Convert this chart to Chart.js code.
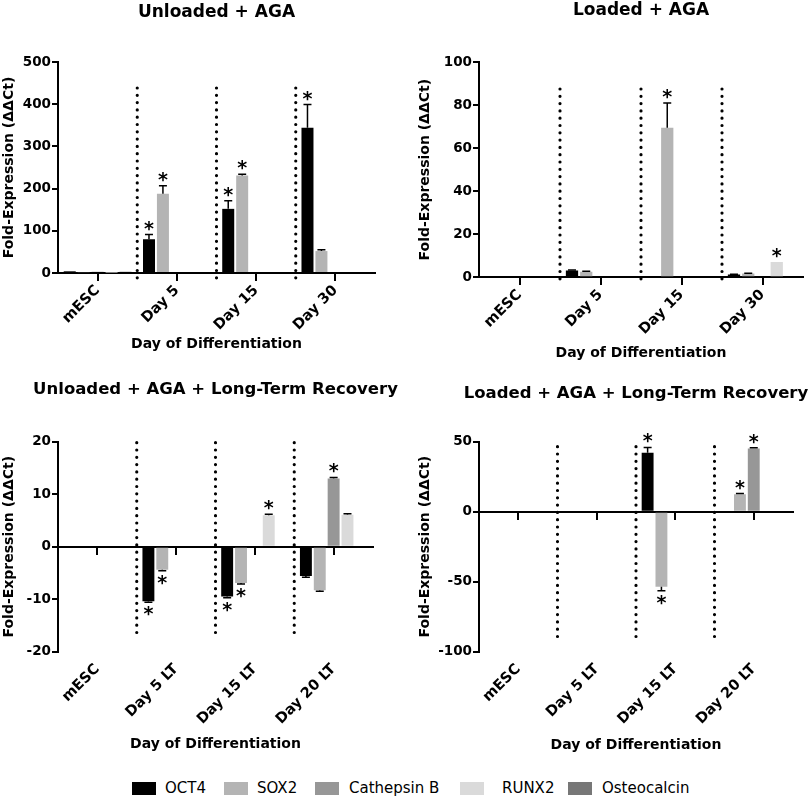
<!DOCTYPE html>
<html>
<head>
<meta charset="utf-8">
<script src="https://cdn.jsdelivr.net/npm/chart.js@4.4.1/dist/chart.umd.min.js"></script>
<style>
  html, body { margin: 0; padding: 0; background: #fff; }
  body { width: 810px; height: 797px; position: relative; overflow: hidden; }
  canvas { position: absolute; }
  #legend { position: absolute; left: 0; top: 781px; width: 810px; height: 16px;
            font-family: 'DejaVu Sans', sans-serif; font-size: 15px; color: #000; }
  #legend .box { position: absolute; top: 1px; width: 24px; height: 13px; }
  #legend .lbl { position: absolute; top: -1px; line-height: 16px; white-space: nowrap; }
</style>
</head>
<body>
<canvas id="c1" width="433" height="365" style="left:0;top:0"></canvas>
<canvas id="c2" width="472" height="365" style="left:405px;top:0"></canvas>
<canvas id="c3" width="431" height="395" style="left:0;top:365px"></canvas>
<canvas id="c4" width="462" height="395" style="left:405px;top:365px"></canvas>
<div id="legend"></div>
<script>
// genes (one dataset each) and the day categories
const genes = ['OCT4', 'SOX2', 'Cathepsin B', 'RUNX2', 'Osteocalcin'];
const agaDays = ['mESC', 'Day 5', 'Day 15', 'Day 30'];
const ltDays = ['mESC', 'Day 5 LT', 'Day 15 LT', 'Day 20 LT'];

// rows = genes, columns = days
const unloadedAga = [
  [4, 80, 152, 344],
  [2, 188, 231, 52],
  [3, 0, 0, 0],
  [1, 0, 0, 0],
  [3, 0, 0, 0]
];
const unloadedAgaErr = [
  [0, 11, 19, 55],
  [0, 19, 3, 3],
  [0, 0, 0, 0],
  [0, 0, 0, 0],
  [0, 0, 0, 0]
];
const unloadedAgaSig = [
  [0, 1, 1, 1],
  [0, 1, 1, 0],
  [0, 0, 0, 0],
  [0, 0, 0, 0],
  [0, 0, 0, 0]
];

const loadedAga = [
  [0, 3.2, 0, 1.3],
  [0, 2.6, 69.5, 1.8],
  [0, 0, 0, 0],
  [0, 0, 0, 7.1],
  [0, 0, 0, 0]
];
const loadedAgaErr = [
  [0, 0.2, 0, 0.1],
  [0, 0.2, 11.5, 0.1],
  [0, 0, 0, 0],
  [0, 0, 0, 0],
  [0, 0, 0, 0]
];
const loadedAgaSig = [
  [0, 0, 0, 0],
  [0, 0, 1, 0],
  [0, 0, 0, 0],
  [0, 0, 0, 1],
  [0, 0, 0, 0]
];

const unloadedLt = [
  [0, -10.4, -9.5, -5.6],
  [0, -4.4, -6.9, -8.3],
  [0, 0, 0, 13.0],
  [0, -0.2, 6.0, 6.1],
  [0, 0, 0, 0]
];
const unloadedLtErr = [
  [0, 0.2, 0.2, 0.2],
  [0, 0.2, 0.2, 0.2],
  [0, 0, 0, 0.2],
  [0, 0, 0.2, 0.2],
  [0, 0, 0, 0]
];
const unloadedLtSig = [
  [0, 1, 1, 0],
  [0, 1, 1, 0],
  [0, 0, 0, 1],
  [0, 0, 1, 0],
  [0, 0, 0, 0]
];

const loadedLt = [
  [0, -1, 42.1, -1],
  [0, 0, -53.6, 12.4],
  [0, 0, 0, 45.2],
  [0, 0, 0, 0],
  [0, 0, 0, 0]
];
const loadedLtErr = [
  [0, 0, 3.8, 0],
  [0, 0, 2.8, 0.6],
  [0, 0, 0, 0.4],
  [0, 0, 0, 0],
  [0, 0, 0, 0]
];
const loadedLtSig = [
  [0, 0, 1, 0],
  [0, 0, 1, 1],
  [0, 0, 0, 1],
  [0, 0, 0, 0],
  [0, 0, 0, 0]
];

const geneColors = ['#000000', '#b4b4b4', '#979797', '#dadada', '#777777'];
const FONT = "'DejaVu Sans', sans-serif";

// dotted separators between day groups
function dottedLines(start, length) {
  return {
    id: 'dotted',
    beforeDatasetsDraw(chart) {
      const { ctx, chartArea, scales: { x } } = chart;
      const top = chartArea.top + start;
      ctx.save();
      ctx.strokeStyle = '#000';
      ctx.lineWidth = 3.2;
      ctx.lineCap = 'round';
      ctx.setLineDash([0, 7.3]);
      for (let i = 1; i < chart.data.labels.length; i++) {
        const bx = (x.getPixelForValue(i - 1) + x.getPixelForValue(i)) / 2;
        ctx.beginPath();
        ctx.moveTo(bx, top);
        ctx.lineTo(bx, top + length);
        ctx.stroke();
      }
      ctx.restore();
    }
  };
}

// one-sided error bars and significance stars
function errorStars(err, sig) {
  return {
    id: 'errorStars',
    afterDatasetsDraw(chart) {
      const { ctx, scales: { y } } = chart;
      ctx.save();
      chart.data.datasets.forEach((ds, di) => {
        chart.getDatasetMeta(di).data.forEach((bar, i) => {
          const v = ds.data[i];
          const e = err[di][i];
          const dir = v < 0 ? -1 : 1;
          let endY = bar.y;
          if (e > 0) {
            endY = y.getPixelForValue(v + dir * e);
            ctx.strokeStyle = '#000';
            ctx.lineWidth = 1.5;
            ctx.beginPath();
            ctx.moveTo(bar.x, bar.y);
            ctx.lineTo(bar.x, endY);
            ctx.moveTo(bar.x - 4, endY);
            ctx.lineTo(bar.x + 4, endY);
            ctx.stroke();
          }
          if (sig[di][i]) {
            ctx.fillStyle = '#000';
            ctx.font = 'bold 19px ' + FONT;
            ctx.textAlign = 'center';
            ctx.textBaseline = 'alphabetic';
            const m = ctx.measureText('*');
            const cy = endY - dir * 9;
            ctx.fillText('*', bar.x, cy + (m.actualBoundingBoxAscent - m.actualBoundingBoxDescent) / 2);
          }
        });
      });
      ctx.restore();
    }
  };
}

function panel(id, c) {
  const tickFont = { family: FONT, size: 13.5, weight: 'bold' };
  return new Chart(document.getElementById(id), {
    type: 'bar',
    data: {
      labels: c.labels,
      datasets: genes.map((g, gi) => ({
        label: g,
        data: c.values[gi],
        backgroundColor: geneColors[gi],
        borderWidth: 0,
        categoryPercentage: 0.88,
        barPercentage: 0.86
      }))
    },
    options: {
      responsive: false,
      animation: false,
      layout: { padding: 0 },
      plugins: {
        legend: { display: false },
        tooltip: { enabled: false },
        title: {
          display: true, text: c.title, color: '#000',
          font: { family: FONT, size: c.titleSize, weight: 'bold' },
          padding: { top: c.titleTop, bottom: c.titleBottom }
        }
      },
      scales: {
        x: {
          type: 'category', position: 'bottom', offset: true,
          grid: { display: false, drawTicks: true, tickLength: 7 },
          border: { display: false },
          ticks: { color: '#000', font: { family: FONT, size: 14.5, weight: 'bold' },
                   minRotation: 45, maxRotation: 45, padding: 2, autoSkip: false },
          title: { display: true, text: 'Day of Differentiation', color: '#000',
                   font: { family: FONT, size: 14, weight: 'bold' },
                   padding: { top: 0, bottom: c.xTitlePad } },
          afterFit: s => { s.height = c.xH; }
        },
        x2: {
          axis: 'x', type: 'category', position: { y: 0 }, offset: true,
          grid: { display: true, drawOnChartArea: false, drawTicks: true, tickLength: 7,
                  color: '#000', lineWidth: 2, offset: false },
          border: { display: true, color: '#000', width: 2 },
          ticks: { display: false }
        },
        y: {
          position: 'left', min: c.min, max: c.max,
          ticks: { stepSize: c.step, color: '#000', font: tickFont, padding: 1 },
          grid: { display: true, drawOnChartArea: false, drawTicks: true, tickLength: 6,
                  color: '#000', lineWidth: 2 },
          border: { display: true, color: '#000', width: 2 },
          title: { display: true, text: 'Fold-Expression (ΔΔCt)', color: '#000',
                   font: { family: FONT, size: 14, weight: 'bold' },
                   padding: { top: c.yTitlePad, bottom: 0 } },
          afterFit: s => { s.width = c.axisW; }
        },
        yR: {
          axis: 'y', position: 'right', min: c.min, max: c.max,
          grid: { display: false }, border: { display: false }, ticks: { display: false },
          afterFit: s => { s.width = c.axisW; }
        }
      }
    },
    plugins: [dottedLines(c.dotStart, 195), errorStars(c.err, c.sig)]
  });
}

panel('c1', {
  title: 'Unloaded + AGA', titleSize: 17, titleTop: 2.8, titleBottom: 38.8,
  labels: agaDays, values: unloadedAga, err: unloadedAgaErr, sig: unloadedAgaSig,
  min: 0, max: 500, step: 100, axisW: 58, xH: 92, xTitlePad: 12.6, yTitlePad: 1.1, dotStart: 26
});
panel('c2', {
  title: 'Loaded + AGA', titleSize: 17, titleTop: 0, titleBottom: 41.6,
  labels: agaDays, values: loadedAga, err: loadedAgaErr, sig: loadedAgaSig,
  min: 0, max: 100, step: 20, axisW: 74, xH: 87.7, xTitlePad: 3.6, yTitlePad: 12.1, dotStart: 27
});
panel('c3', {
  title: 'Unloaded + AGA + Long-Term Recovery', titleSize: 16.5, titleTop: 15.1, titleBottom: 41.8,
  labels: ltDays, values: unloadedLt, err: unloadedLtErr, sig: unloadedLtSig,
  min: -20, max: 20, step: 10, axisW: 58, xH: 108.3, xTitlePad: 7.6, yTitlePad: 1.1, dotStart: 1
});
panel('c4', {
  title: 'Loaded + AGA + Long-Term Recovery', titleSize: 16.5, titleTop: 19.1, titleBottom: 37.8,
  labels: ltDays, values: loadedLt, err: loadedLtErr, sig: loadedLtSig,
  min: -100, max: 50, step: 50, axisW: 74, xH: 108.3, xTitlePad: 6.6, yTitlePad: 12.1, dotStart: 5
});

// shared legend under the four panels
const legendBoxX = [132, 224, 315, 460, 568];
const legendTextX = [165, 257, 349, 502, 602];
const legend = document.getElementById('legend');
genes.forEach((g, i) => {
  const box = document.createElement('span');
  box.className = 'box';
  box.style.left = legendBoxX[i] + 'px';
  box.style.background = geneColors[i];
  const lbl = document.createElement('span');
  lbl.className = 'lbl';
  lbl.style.left = legendTextX[i] + 'px';
  lbl.textContent = g;
  legend.appendChild(box);
  legend.appendChild(lbl);
});
</script>
</body>
</html>
